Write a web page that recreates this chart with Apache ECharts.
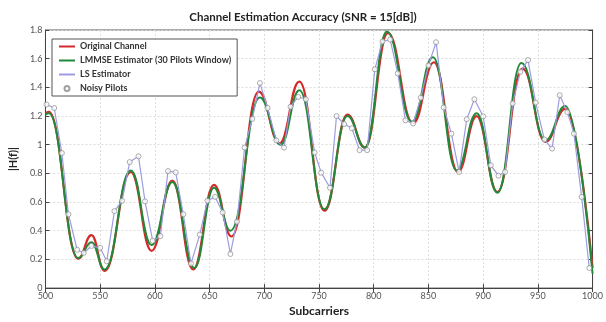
<!DOCTYPE html>
<html>
<head>
<meta charset="utf-8">
<script src="https://cdn.jsdelivr.net/npm/echarts@6/dist/echarts.min.js"></script>
<style>html,body{margin:0;padding:0;background:#fff}#c{width:606px;height:322px}</style>
</head>
<body>
<div id="c"></div>
<script>
// Original channel: extrema
var origX = [500, 503, 530, 542, 554, 578, 597, 616, 635, 654, 670, 695, 714, 732, 755, 776, 792, 813, 836, 855, 877, 894, 913, 936, 957, 975, 1000];
var origY = [1.22, 1.23, 0.205, 0.37, 0.12, 0.81, 0.26, 0.75, 0.13, 0.72, 0.36, 1.37, 1.01, 1.44, 0.54, 1.21, 0.98, 1.78, 1.15, 1.575, 0.81, 1.20, 0.67, 1.53, 1.02, 1.25, 0.14];
// LMMSE estimator extrema
var lmmseX = [500, 503, 530, 542, 554, 578, 597, 616, 636, 654, 669, 696, 715, 732, 755, 776, 792, 812, 835, 854, 876, 894, 913, 935, 957, 975, 1000];
var lmmseY = [1.21, 1.22, 0.21, 0.32, 0.13, 0.82, 0.30, 0.74, 0.14, 0.70, 0.40, 1.33, 1.00, 1.38, 0.55, 1.20, 0.98, 1.79, 1.16, 1.61, 0.82, 1.22, 0.665, 1.57, 1.03, 1.27, 0.10];
// Noisy pilots (also the LS estimator)
var pilotX = [501, 508, 515, 521, 529, 535, 542, 550, 556, 563, 570, 577, 585, 591, 598, 605, 612, 619, 626, 633, 641, 648, 655, 662, 669, 675, 682, 689, 696, 703, 711, 718, 724, 731, 738, 746, 752, 760, 766, 773, 780, 787, 794, 801, 808, 815, 822, 829, 836, 843, 850, 857, 864, 871, 878, 885, 892, 900, 907, 914, 920, 927, 934, 941, 948, 956, 963, 970, 977, 983, 990, 997];
var pilotY = [1.28, 1.256, 0.942, 0.515, 0.267, 0.245, 0.294, 0.281, 0.187, 0.537, 0.609, 0.879, 0.919, 0.605, 0.33, 0.362, 0.816, 0.807, 0.515, 0.171, 0.373, 0.609, 0.636, 0.528, 0.238, 0.463, 0.98, 1.18, 1.43, 1.256, 1.03, 0.98, 1.265, 1.333, 1.317, 0.946, 0.805, 0.70, 1.20, 1.144, 1.115, 0.962, 0.962, 1.526, 1.72, 1.733, 1.497, 1.17, 1.148, 1.328, 1.553, 1.715, 1.26, 1.077, 0.81, 1.178, 1.317, 1.198, 0.856, 0.784, 0.81, 1.288, 1.508, 1.59, 1.294, 1.036, 0.973, 1.345, 1.227, 1.077, 0.636, 0.14];

var seriesNames = ['Original Channel', 'LMMSE Estimator (30 Pilots Window)', 'LS Estimator', 'Noisy Pilots'];
var titleText = 'Channel Estimation Accuracy (SNR = 15[dB])';
var xName = 'Subcarriers', yName = '|H(f)|';

function zip(a, b) { return a.map(function (v, i) { return [v, b[i]]; }); }

var font = 'Lato';
var chart = echarts.init(document.getElementById('c'), null, {renderer: 'canvas'});
var tickStyle = {show: true, inside: true, length: 4, lineStyle: {color: '#444'}};
var hideSym = {opacity: 0};
chart.setOption({
  animation: false,
  backgroundColor: '#fff',
  title: {text: titleText, left: 'center', top: 6, textStyle: {fontFamily: font, fontSize: 11.5, fontWeight: 'bold', color: '#222'}},
  grid: {left: 41, right: 4, top: 30, bottom: 25, show: true, borderColor: '#555', borderWidth: 1},
  legend: {
    orient: 'vertical', left: 52, top: 39,
    data: [
      {name: seriesNames[0], itemStyle: hideSym},
      {name: seriesNames[1], itemStyle: hideSym},
      {name: seriesNames[2], itemStyle: hideSym},
      {name: seriesNames[3]}
    ],
    backgroundColor: '#fff', borderColor: '#555', borderWidth: 1,
    padding: [3, 6, 3, 6], itemWidth: 16, itemHeight: 5, itemGap: 5,
    textStyle: {fontFamily: font, fontSize: 9, fontWeight: 'bold', color: '#333'}
  },
  xAxis: [{
    type: 'value', min: 500, max: 1000, interval: 50,
    name: xName, nameLocation: 'middle', nameGap: 9,
    nameTextStyle: {fontFamily: font, fontSize: 12, fontWeight: 'bold', color: '#222'},
    axisLine: {show: true, lineStyle: {color: '#444'}},
    axisTick: tickStyle,
    axisLabel: {fontFamily: font, fontSize: 9, color: '#555', margin: 3, formatter: function (v) { return String(v); }},
    splitLine: {show: true, lineStyle: {color: '#ddd', type: [2, 2]}}
  }, {
    type: 'value', min: 500, max: 1000, interval: 50, position: 'top',
    axisLine: {show: true, lineStyle: {color: '#444'}}, axisTick: tickStyle,
    axisLabel: {show: false}, splitLine: {show: false}
  }],
  yAxis: [{
    type: 'value', min: 0, max: 1.8, interval: 0.2,
    name: yName, nameLocation: 'middle', nameGap: 22,
    nameTextStyle: {fontFamily: font, fontSize: 11, fontWeight: 'bold', color: '#222'},
    axisLine: {show: true, lineStyle: {color: '#444'}},
    axisTick: tickStyle,
    axisLabel: {fontFamily: font, fontSize: 9, color: '#555', margin: 3},
    splitLine: {show: true, lineStyle: {color: '#ddd', type: [2, 2]}}
  }, {
    type: 'value', min: 0, max: 1.8, interval: 0.2, position: 'right',
    axisLine: {show: true, lineStyle: {color: '#444'}}, axisTick: tickStyle,
    axisLabel: {show: false}, splitLine: {show: false}
  }],
  series: [
    {name: seriesNames[0], type: 'line', data: zip(origX, origY), symbol: 'none', smooth: 0.45, smoothMonotone: 'x',
     color: '#d62a2a', lineStyle: {width: 2.2, color: '#d62a2a'}, z: 2},
    {name: seriesNames[1], type: 'line', data: zip(lmmseX, lmmseY), symbol: 'none', smooth: 0.45, smoothMonotone: 'x',
     color: '#23893a', lineStyle: {width: 2, color: '#23893a'}, z: 3},
    {name: seriesNames[2], type: 'line', data: zip(pilotX, pilotY), symbol: 'none',
     color: '#9c9ce2', lineStyle: {width: 1.2, color: '#9c9ce2'}, z: 4},
    {name: seriesNames[3], type: 'scatter', data: zip(pilotX, pilotY), symbol: 'circle', symbolSize: 5,
     color: '#fff', itemStyle: {color: '#fff', borderColor: '#8a8a8a', borderWidth: 0.9}, z: 5}
  ]
});
</script>
</body>
</html>
